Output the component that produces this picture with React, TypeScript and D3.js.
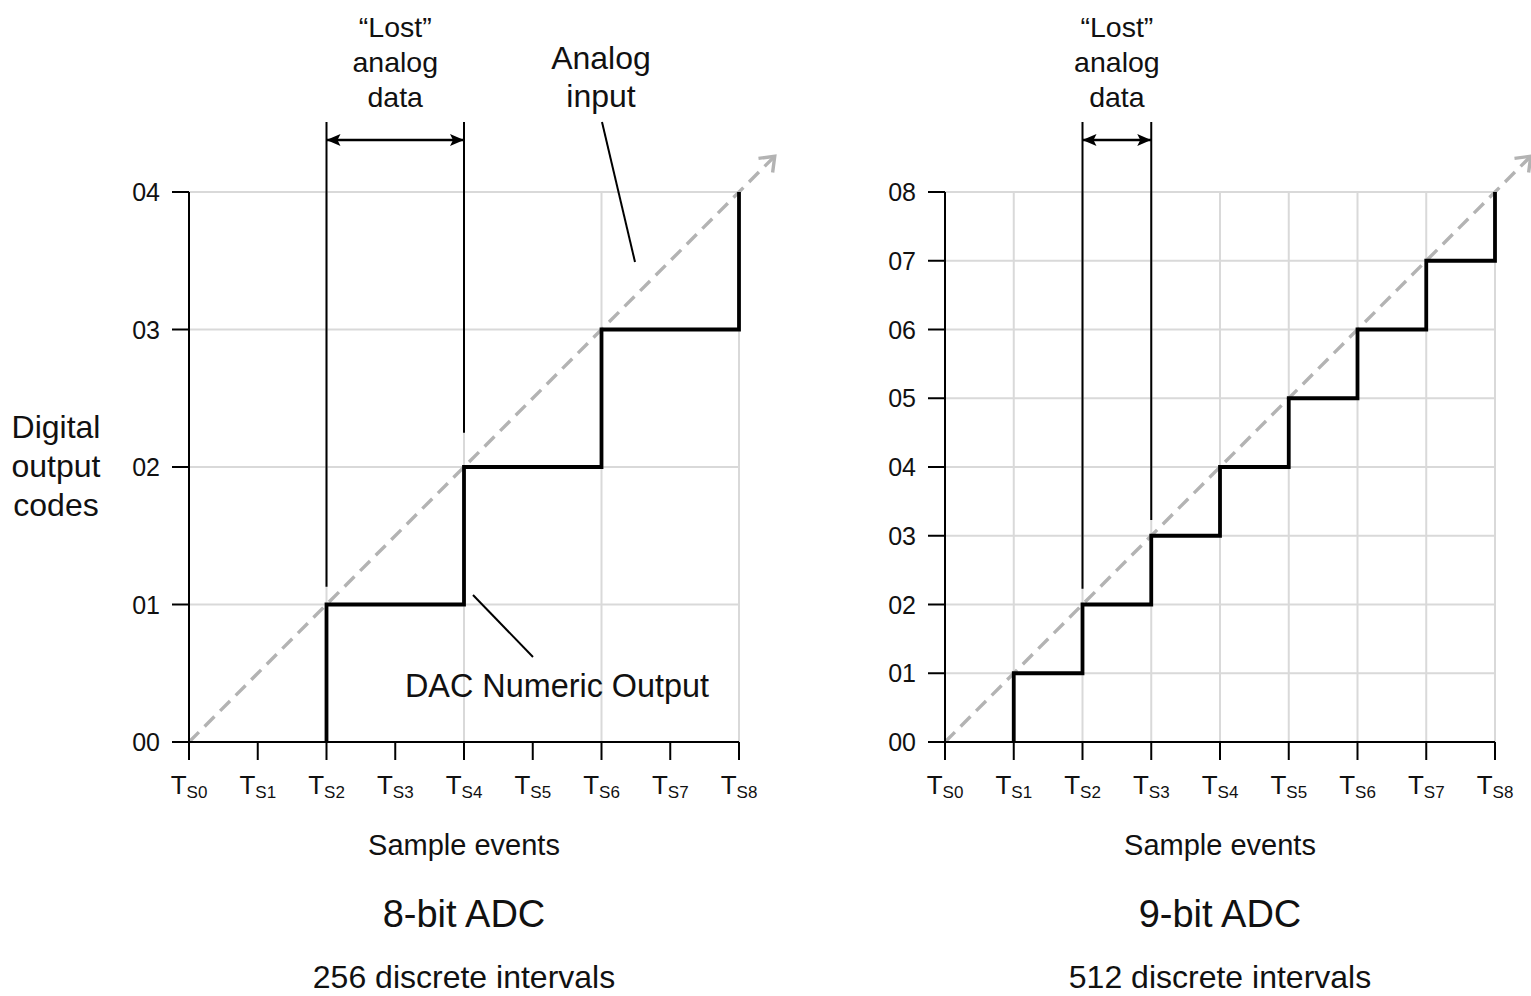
import React from "react";
import * as d3 from "d3";

const FONT = "'Liberation Sans', Arial, Helvetica, sans-serif";

// Sample events (x axis)
const sampleLabels = ["S0", "S1", "S2", "S3", "S4", "S5", "S6", "S7", "S8"];

// 8-bit ADC panel
const leftCodeLabels = ["00", "01", "02", "03", "04"];
const leftConvSamples = [2, 4, 6, 8];
const leftConvCodes = [1, 2, 3, 4];
const leftGridSamples = [2, 4, 6, 8];
const leftLostSamples = [2, 4];
const leftLostEnds = [1.13, 2.25];

// 9-bit ADC panel
const rightCodeLabels = ["00", "01", "02", "03", "04", "05", "06", "07", "08"];
const rightConvSamples = [1, 2, 3, 4, 5, 6, 7, 8];
const rightConvCodes = [1, 2, 3, 4, 5, 6, 7, 8];
const rightGridSamples = [1, 2, 3, 4, 5, 6, 7, 8];
const rightLostSamples = [2, 3];
const rightLostEnds = [2.23, 3.23];

const analogEnd = 8.52;

type PanelProps = {
  x0: number;
  x1: number;
  codeLabels: string[];
  convSamples: number[];
  convCodes: number[];
  gridSamples: number[];
  lostSamples: number[];
  lostEnds: number[];
  title: string;
  subtitle: string;
  showYTitle?: boolean;
  showAnnotations?: boolean;
};

function Panel(p: PanelProps) {
  const yTop = 192;
  const yBot = 742;
  const nCodes = p.codeLabels.length - 1;
  const x = d3.scaleLinear().domain([0, sampleLabels.length - 1]).range([p.x0, p.x1]);
  const y = d3.scaleLinear().domain([0, nCodes]).range([yBot, yTop]);
  const line = d3
    .line<[number, number]>()
    .x((d) => x(d[0]))
    .y((d) => y(d[1]));

  const stepPts: [number, number][] = [[p.convSamples[0], 0]];
  p.convSamples.forEach((s, i) => {
    stepPts.push([s, p.convCodes[i]]);
    if (i + 1 < p.convSamples.length) stepPts.push([p.convSamples[i + 1], p.convCodes[i]]);
  });

  const analogSlope = nCodes / (sampleLabels.length - 1);
  const analogPts: [number, number][] = [
    [0, 0],
    [analogEnd, analogEnd * analogSlope],
  ];
  const cx = (p.x0 + p.x1) / 2;
  const lostMid = (x(p.lostSamples[0]) + x(p.lostSamples[1])) / 2;

  return (
    <g fontFamily={FONT}>
      {/* grid */}
      {d3.range(1, nCodes + 1).map((c) => (
        <line key={"h" + c} x1={p.x0} x2={p.x1} y1={y(c)} y2={y(c)} stroke="#d9d9d9" strokeWidth={2} />
      ))}
      {p.gridSamples.map((s) => (
        <line key={"v" + s} x1={x(s)} x2={x(s)} y1={yTop} y2={yBot} stroke="#d9d9d9" strokeWidth={2} />
      ))}
      {/* analog input */}
      <path
        d={line(analogPts) || ""}
        fill="none"
        stroke="#b3b3b3"
        strokeWidth={3.4}
        strokeDasharray="14 8"
        markerEnd="url(#chev)"
      />
      {/* lost markers */}
      {p.lostSamples.map((s, i) => (
        <line key={"l" + s} x1={x(s)} x2={x(s)} y1={122} y2={y(p.lostEnds[i])} stroke="#000" strokeWidth={2} />
      ))}
      <line
        x1={x(p.lostSamples[0])}
        x2={x(p.lostSamples[1])}
        y1={140}
        y2={140}
        stroke="#000"
        strokeWidth={2.5}
        markerStart="url(#tri)"
        markerEnd="url(#tri)"
      />
      <text textAnchor="middle" fontSize={28.5} fill="#111">
        <tspan x={lostMid} y={37}>“Lost”</tspan>
        <tspan x={lostMid} y={72}>analog</tspan>
        <tspan x={lostMid} y={107}>data</tspan>
      </text>
      {/* step output */}
      <path d={line(stepPts) || ""} fill="none" stroke="#000" strokeWidth={3.8} strokeLinejoin="miter" />
      {/* axes */}
      <line x1={p.x0} x2={p.x0} y1={yTop} y2={yBot} stroke="#000" strokeWidth={2} />
      <line x1={p.x0} x2={p.x1} y1={yBot} y2={yBot} stroke="#000" strokeWidth={2} />
      {p.codeLabels.map((lab, c) => (
        <g key={"yt" + lab}>
          <line x1={p.x0 - 17} x2={p.x0} y1={y(c)} y2={y(c)} stroke="#000" strokeWidth={2} />
          <text x={p.x0 - 29} y={y(c) + 9} textAnchor="end" fontSize={25} fill="#111">
            {lab}
          </text>
        </g>
      ))}
      {sampleLabels.map((lab, s) => (
        <g key={"xt" + lab}>
          <line x1={x(s)} x2={x(s)} y1={yBot} y2={yBot + 18} stroke="#000" strokeWidth={2} />
          <text x={x(s)} y={794} textAnchor="middle" fill="#111">
            <tspan fontSize={26}>T</tspan>
            <tspan fontSize={17} dy={4}>{lab}</tspan>
          </text>
        </g>
      ))}
      <text x={cx} y={855} textAnchor="middle" fontSize={29} fill="#111">Sample events</text>
      <text x={cx} y={927} textAnchor="middle" fontSize={38} fill="#111">{p.title}</text>
      <text x={cx} y={988} textAnchor="middle" fontSize={32} fill="#111">{p.subtitle}</text>
      {p.showYTitle && (
        <text textAnchor="middle" fontSize={32} fill="#111">
          <tspan x={56} y={438}>Digital</tspan>
          <tspan x={56} y={477}>output</tspan>
          <tspan x={56} y={516}>codes</tspan>
        </text>
      )}
      {p.showAnnotations && (
        <g>
          <text textAnchor="middle" fontSize={32} fill="#111">
            <tspan x={601} y={69}>Analog</tspan>
            <tspan x={601} y={107}>input</tspan>
          </text>
          <line x1={602} y1={122} x2={635} y2={262} stroke="#000" strokeWidth={2} />
          <line x1={473} y1={595} x2={533} y2={657} stroke="#000" strokeWidth={2} />
          <text x={557} y={697} textAnchor="middle" fontSize={32.4} fill="#111">DAC Numeric Output</text>
        </g>
      )}
    </g>
  );
}

export default function App() {
  return (
    <svg
      width={1531}
      height={996}
      style={{ position: "absolute", left: 0, top: 0, background: "#fff" }}
    >
      <defs>
        <marker
          id="tri"
          viewBox="0 0 14 12"
          refX={14}
          refY={6}
          markerWidth={14}
          markerHeight={12}
          markerUnits="userSpaceOnUse"
          orient="auto-start-reverse"
        >
          <path d="M0,0 L14,6 L0,12 L3,6 z" fill="#000" />
        </marker>
        <marker
          id="chev"
          viewBox="0 0 20 24"
          refX={17}
          refY={12}
          markerWidth={20}
          markerHeight={24}
          markerUnits="userSpaceOnUse"
          orient="auto"
        >
          <path d="M4,2 L17,12 L4,22" fill="none" stroke="#b3b3b3" strokeWidth={3.4} />
        </marker>
      </defs>
      <rect width={1531} height={996} fill="#fff" />
      <Panel
        x0={189}
        x1={739}
        codeLabels={leftCodeLabels}
        convSamples={leftConvSamples}
        convCodes={leftConvCodes}
        gridSamples={leftGridSamples}
        lostSamples={leftLostSamples}
        lostEnds={leftLostEnds}
        title="8-bit ADC"
        subtitle="256 discrete intervals"
        showYTitle
        showAnnotations
      />
      <Panel
        x0={945}
        x1={1495}
        codeLabels={rightCodeLabels}
        convSamples={rightConvSamples}
        convCodes={rightConvCodes}
        gridSamples={rightGridSamples}
        lostSamples={rightLostSamples}
        lostEnds={rightLostEnds}
        title="9-bit ADC"
        subtitle="512 discrete intervals"
      />
    </svg>
  );
}
